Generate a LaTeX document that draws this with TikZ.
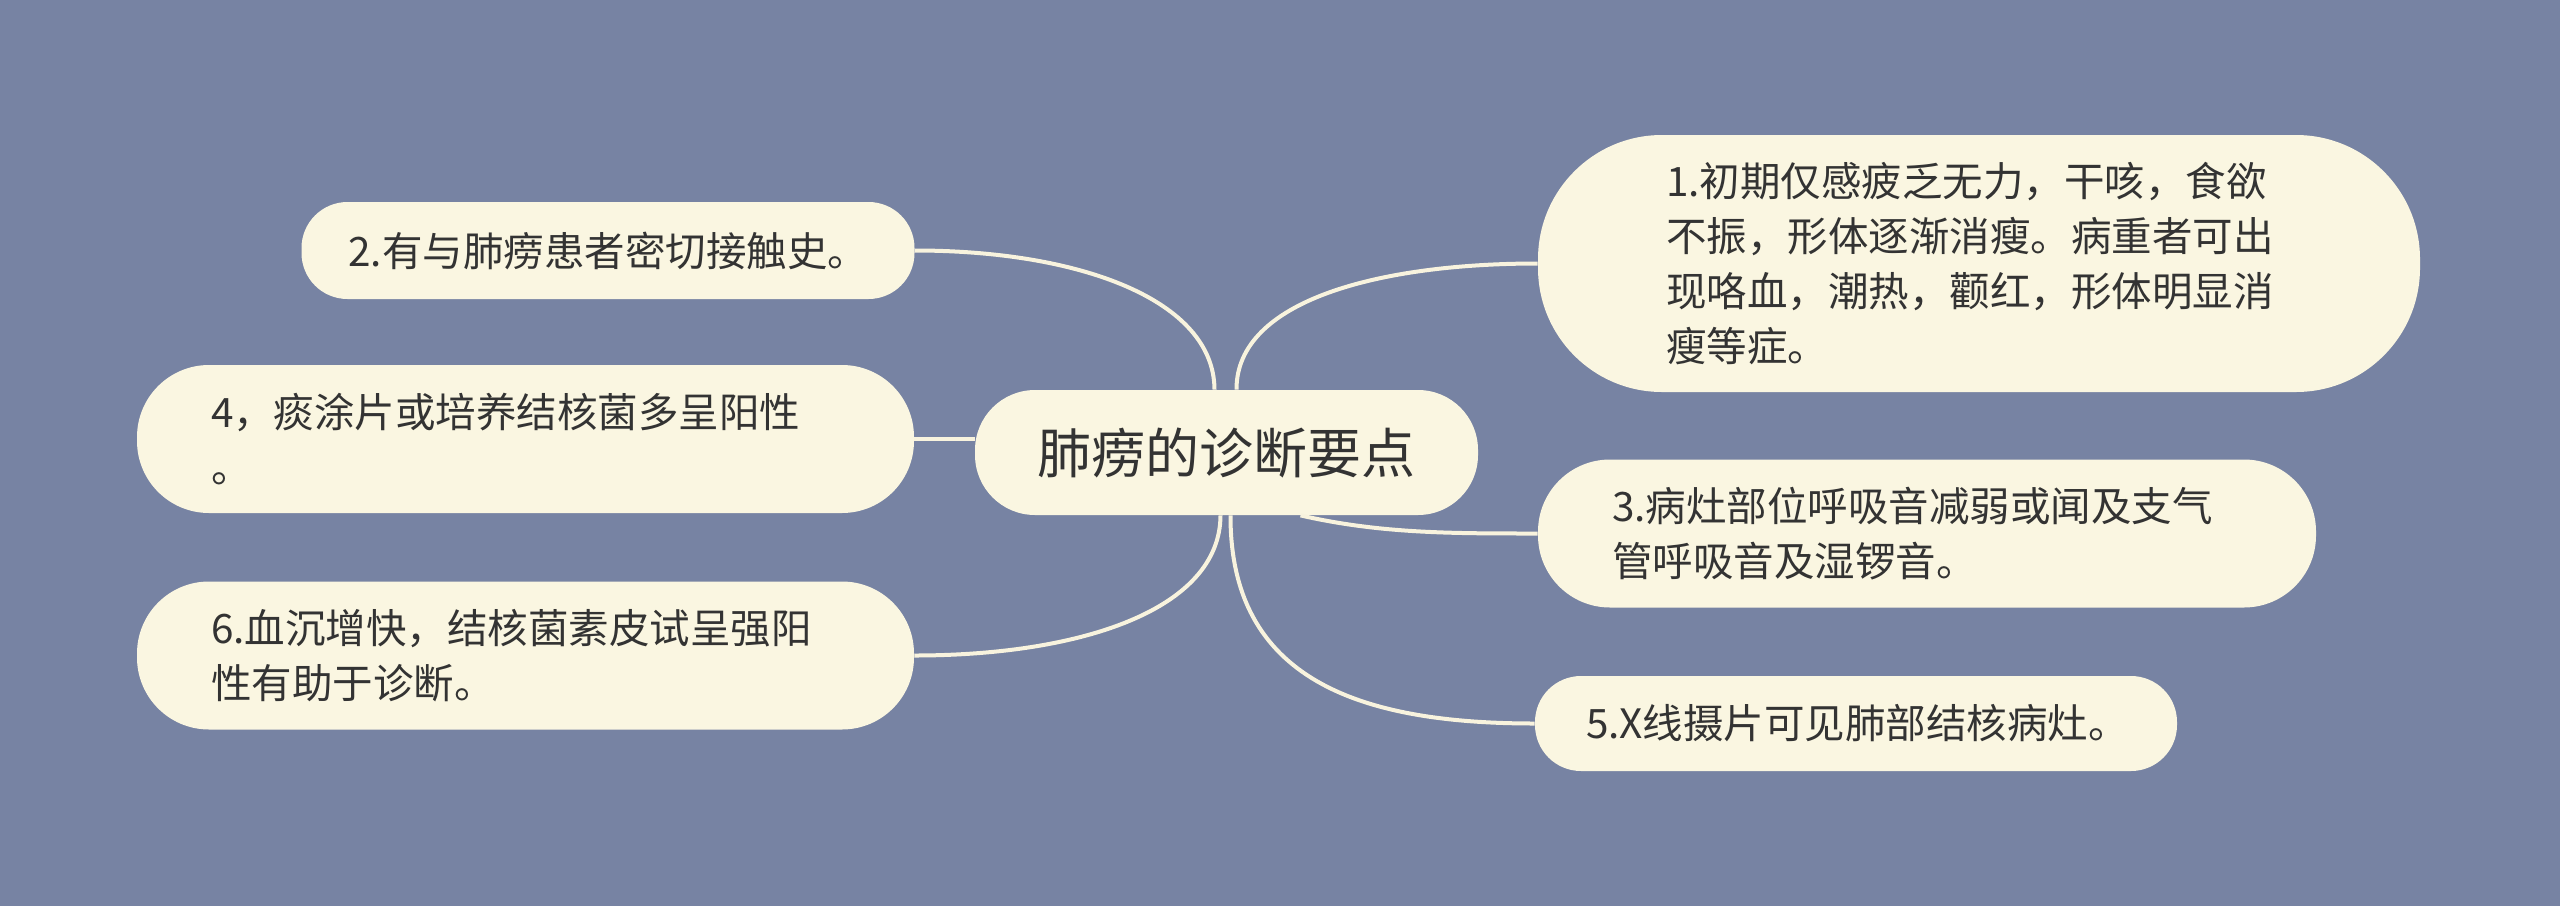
\documentclass[tikz,border=0pt]{standalone}
\usepackage{fontspec}
\setmainfont{Noto Sans CJK SC}
\usetikzlibrary{positioning}

\definecolor{bgblue}{HTML}{7783A3}
\definecolor{boxfill}{HTML}{FAF6E1}
\definecolor{linkline}{HTML}{F8F3DE}
\definecolor{txt}{HTML}{333333}

\tikzset{
  topic/.style={fill=boxfill, text=txt, inner sep=0pt,
    font=\fontsize{27}{34}\selectfont},
  leaf/.style={fill=boxfill, text=txt, inner ysep=0pt, align=left,
    font=\fontsize{20.25}{27.5}\selectfont},
  link/.style={draw=linkline, line width=2pt}
}

\begin{document}
\begin{tikzpicture}[x=0.5pt, y=-0.5pt]
   \fill[bgblue] (0,0) rectangle (2560,906);
   \useasboundingbox (0,0) rectangle (2560,906);

   \node[topic, minimum width=251.5pt, minimum height=62.5pt, rounded corners=30pt] (ctr) at (1226.5,452.5) {肺痨的诊断要点};

   \node[leaf, minimum height=128.5pt, text width=313pt, inner xsep=64pt, rounded corners=62pt] (n1) at (1979,263.5)
      {1.初期仅感疲乏无力，干咳，食欲\\不振，形体逐渐消瘦。病重者可出\\现咯血，潮热，颧红，形体明显消\\瘦等症。};
   \node[leaf, minimum height=48.5pt, text width=259.5pt, inner xsep=23.5pt, rounded corners=23pt] (n2) at (608,250.5)
      {2.有与肺痨患者密切接触史。};
   \node[leaf, minimum height=74pt, text width=315pt, inner xsep=37pt, rounded corners=36pt] (n3) at (1927,533.5)
      {3.病灶部位呼吸音减弱或闻及支气\\管呼吸音及湿锣音。};
   \node[leaf, minimum height=74pt, text width=314.5pt, inner xsep=37pt, rounded corners=36pt] (n4) at (525.5,439)
      {4，痰涂片或培养结核菌多呈阳性\\。};
   \node[leaf, minimum height=47.5pt, text width=270pt, inner xsep=25.5pt, rounded corners=23pt] (n5) at (1856,723.5)
      {5.X线摄片可见肺部结核病灶。};
   \node[leaf, minimum height=74pt, text width=314.5pt, inner xsep=37pt, rounded corners=36pt] (n6) at (525.5,655.5)
      {6.血沉增快，结核菌素皮试呈强阳\\性有助于诊断。};

   % links from the main topic
   \draw[link] ([xshift=-6pt]ctr.north) .. controls (1214,300) and (1080,250.5) .. (n2.east);
   \draw[link] ([xshift=5pt]ctr.north) .. controls (1236,300) and (1380,263.5) .. (n1.west);
   \draw[link] (n4.east) -- (n4.east -| ctr.west);
   \draw[link] ([xshift=-3pt]ctr.south) .. controls (1220,610) and (1080,655.5) .. (n6.east);
   \draw[link] ([xshift=37pt]ctr.south) .. controls (1380,533.5) and (1450,533.5) .. (n3.west);
   \draw[link] ([xshift=2pt]ctr.south) .. controls (1230,680) and (1360,723.5) .. (n5.west);
\end{tikzpicture}
\end{document}
